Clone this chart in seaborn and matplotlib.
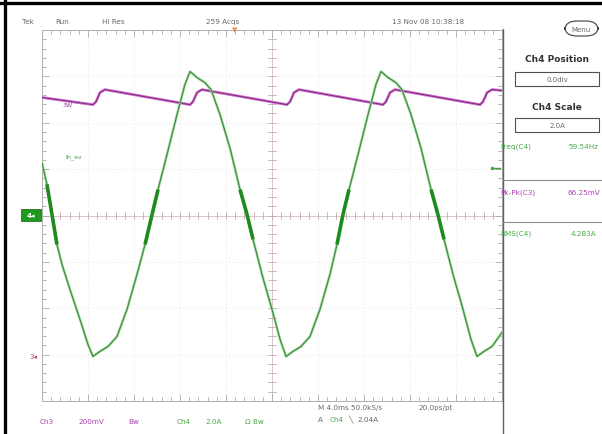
import numpy as np
import pandas as pd
import matplotlib
matplotlib.use('Agg')
import matplotlib.pyplot as plt
import seaborn as sns
from matplotlib.patches import Rectangle, FancyBboxPatch
from matplotlib.lines import Line2D

sns.set_style('white')
plt.rcParams['font.family'] = ['DejaVu Sans']

# Ch4 current probe trace (time in ms, current in A)
ch4_time = [-20.0, -19.57, -19.13, -18.70, -18.26, -17.57, -16.70, -16.0, -15.57, -14.96,
            -14.26, -13.48, -12.61, -11.74, -11.04, -10.43, -9.91, -9.13, -8.26, -7.57,
            -7.13, -6.52, -5.83, -5.30, -4.52, -3.65, -2.78, -2.17, -1.65, -0.87,
            0.0, 0.70, 1.22, 1.83, 2.52, 3.30, 4.17, 5.04, 5.65, 6.17,
            6.70, 7.48, 8.35, 9.04, 9.48, 10.09, 10.78, 11.30, 12.09, 12.96,
            13.83, 14.43, 14.96, 15.74, 16.61, 17.30, 17.83, 18.43, 19.13, 20.0]
ch4_amps = [2.28, 1.34, 0.04, -1.25, -2.11, -3.19, -4.48, -5.56, -6.08, -5.86,
            -5.65, -5.22, -4.05, -2.54, -1.25, 0.04, 1.12, 2.63, 4.35, 5.65,
            6.21, 5.95, 5.73, 5.43, 4.35, 2.90, 1.12, 0.04, -1.03, -2.54,
            -4.05, -5.34, -6.08, -5.86, -5.65, -5.22, -4.05, -2.54, -1.25, 0.04,
            1.12, 2.63, 4.35, 5.65, 6.21, 5.95, 5.73, 5.43, 4.35, 2.90,
            1.12, 0.04, -1.03, -2.54, -4.05, -5.34, -6.08, -5.86, -5.65, -5.04]

# Ch3 voltage trace (time in ms, volts)
ch3_time = [-20.0, -15.57, -15.30, -14.96, -14.52, -7.13, -6.87, -6.52, -6.09, 1.30,
            1.57, 1.91, 2.35, 9.65, 9.91, 10.26, 10.70, 18.09, 18.35, 18.70, 19.13, 20.0]
ch3_volts = [1.117, 1.086, 1.099, 1.138, 1.151, 1.086, 1.099, 1.138, 1.151, 1.086,
             1.099, 1.138, 1.151, 1.086, 1.099, 1.138, 1.151, 1.086, 1.099, 1.138, 1.151, 1.147]

time_scale = 4.0      # ms/div
ch4_scale = 2.0       # A/div
ch3_scale = 0.2       # V/div
ch3_position = -3.04  # div
trig_level = 2.04     # A

df4 = pd.DataFrame({'x': np.array(ch4_time) / time_scale, 'y': np.array(ch4_amps) / ch4_scale})
df3 = pd.DataFrame({'x': np.array(ch3_time) / time_scale,
                    'y': np.array(ch3_volts) / ch3_scale + ch3_position})

W, H = 602, 435
fig = plt.figure(figsize=(W / 100, H / 100), dpi=100)


def fx(px):
    return px / W


def fy(py):
    return 1 - py / H


ax = fig.add_axes([fx(42), fy(402), 460 / W, 371 / H])
ax.set_xlim(-5, 5)
ax.set_ylim(-4, 4)

# graticule
for v in range(-4, 5):
    ax.axvline(v, color='#dcdcdc', lw=0.6, ls=(0, (1, 3)), zorder=0)
for v in range(-3, 4):
    ax.axhline(v, color='#dcdcdc', lw=0.6, ls=(0, (1, 3)), zorder=0)
ax.axhline(0, color='#d0c0c8', lw=0.6, zorder=0)
ax.axvline(0, color='#d0c0c8', lw=0.6, zorder=0)
for v in np.arange(-5, 5.01, 0.2):
    ax.plot([v, v], [-0.08, 0.08], color='#c8a8b8', lw=0.6, zorder=0)
for v in np.arange(-4, 4.01, 0.2):
    ax.plot([-0.09, 0.09], [v, v], color='#c8a8b8', lw=0.6, zorder=0)
ax.set_xticks(range(-5, 6))
ax.set_yticks(range(-4, 5))
ax.set_xticks(np.arange(-5, 5.01, 0.2), minor=True)
ax.set_yticks(np.arange(-4, 4.01, 0.2), minor=True)
ax.tick_params(which='both', direction='in', top=True, right=True, bottom=True, left=True,
               labelbottom=False, labelleft=False, color='#a8a8a8', width=0.6)
ax.tick_params(which='major', length=5)
ax.tick_params(which='minor', length=3)
for s in ax.spines.values():
    s.set_color('#b0b0b0')
    s.set_linewidth(0.7)

# traces
sns.lineplot(data=df3, x='x', y='y', ax=ax, sort=False, estimator=None, color='#d070d0', lw=2.0, zorder=3)
sns.lineplot(data=df3, x='x', y='y', ax=ax, sort=False, estimator=None, color='#7a2a78', lw=0.7, zorder=4)
sns.lineplot(data=df4, x='x', y='y', ax=ax, sort=False, estimator=None, color='#8ed88e', lw=1.8, zorder=5)
sns.lineplot(data=df4, x='x', y='y', ax=ax, sort=False, estimator=None, color='#427f42', lw=0.7, zorder=6)

# noise bursts at the zero crossings
near_zero = np.abs(df4['y'].values) <= 0.7
for i in range(len(df4) - 1):
    if near_zero[i] and near_zero[i + 1]:
        ax.plot(df4['x'].values[i:i + 2], df4['y'].values[i:i + 2], color='#1f8a1f', lw=2.6,
                solid_capstyle='butt', zorder=7)
ax.set_xlabel('')
ax.set_ylabel('')

ax.text(-4.55, 2.37, '3W', color='#a040a0', fontsize=4.5, zorder=8)
ax.text(-4.5, 1.25, 'Ih_av', color='#40a040', fontsize=4.5, zorder=8)

# thick screenshot frame (left and top only)
fig.add_artist(Line2D([fx(4.5), fx(4.5)], [0, 1], color='black', lw=2.4))
fig.add_artist(Line2D([0, 1], [fy(4), fy(4)], color='black', lw=2.4))
# right edge of graticule, running down to the bottom
fig.add_artist(Line2D([fx(503), fx(503)], [0, fy(30)], color='#606060', lw=1.0))

gray = '#6a6a6a'
fs = 5.2
# top status line
fig.text(fx(22), fy(22), 'Tek', fontsize=fs, color=gray, va='center')
fig.text(fx(55), fy(22), 'Run', fontsize=fs, color=gray, va='center')
fig.text(fx(102), fy(22), 'Hi Res', fontsize=fs, color=gray, va='center')
fig.text(fx(206), fy(22), '259 Acqs', fontsize=fs, color=gray, va='center')
fig.text(fx(392), fy(22), '13 Nov 08 10:38:18', fontsize=fs, color=gray, va='center')
fig.text(fx(235), fy(30), '\u25bc', fontsize=5, color='#f09050', ha='center', va='center')

# menu button
fig.add_artist(FancyBboxPatch((fx(565), fy(37)), fx(598) - fx(565), fy(22) - fy(37),
                              boxstyle='round,pad=0,rounding_size=0.02', fc='white', ec='#404040', lw=0.8,
                              transform=fig.transFigure))
fig.text(fx(581), fy(30), 'Menu', fontsize=5, color=gray, ha='center', va='center')

# side panel
fig.text(fx(557), fy(60), 'Ch4 Position', fontsize=6.5, weight='bold', color='#333333', ha='center', va='center')
fig.add_artist(Rectangle((fx(515), fy(87)), fx(599) - fx(515), fy(73) - fy(87), fc='white', ec='#505050',
                         lw=0.8, transform=fig.transFigure))
fig.text(fx(557), fy(80), '0.0div', fontsize=5, color=gray, ha='center', va='center')
fig.text(fx(557), fy(108), 'Ch4 Scale', fontsize=6.5, weight='bold', color='#333333', ha='center', va='center')
fig.add_artist(Rectangle((fx(515), fy(133)), fx(599) - fx(515), fy(119) - fy(133), fc='white', ec='#505050',
                         lw=0.8, transform=fig.transFigure))
fig.text(fx(557), fy(126), '2.0A', fontsize=5, color=gray, ha='center', va='center')

green_t = '#4aa84a'
purple_t = '#b040b0'
fig.text(fx(500), fy(147), 'Freq(C4)', fontsize=fs, color=green_t, va='center')
fig.text(fx(598), fy(147), '59.54Hz', fontsize=fs, color=green_t, va='center', ha='right')
fig.add_artist(Line2D([fx(503), 1], [fy(181), fy(181)], color='#909090', lw=0.8))
fig.text(fx(500), fy(193), 'Pk-Pk(C3)', fontsize=fs, color=purple_t, va='center')
fig.text(fx(600), fy(193), '66.25mV', fontsize=fs, color=purple_t, va='center', ha='right')
fig.add_artist(Line2D([fx(503), 1], [fy(223), fy(223)], color='#909090', lw=0.8))
fig.text(fx(500), fy(234), 'RMS(C4)', fontsize=fs, color=green_t, va='center')
fig.text(fx(596), fy(234), '4.283A', fontsize=fs, color=green_t, va='center', ha='right')

# channel markers
fig.add_artist(Rectangle((fx(21), fy(222)), fx(41) - fx(21), fy(210) - fy(222), fc='#1f9a1f', ec='#106010',
                         lw=0.5, transform=fig.transFigure))
fig.text(fx(31), fy(216), '4\u25c2', fontsize=5, color='white', weight='bold', ha='center', va='center')
fig.text(fx(33), fy(357), '3\u25c2', fontsize=5, color='#c04070', ha='center', va='center')
trig_y = fy(216 - trig_level / ch4_scale * 46.4)
fig.add_artist(Line2D([fx(492), fx(500)], [trig_y, trig_y], color='#40a040', lw=1.0,
                      marker='o', markersize=1.5, markevery=[0]))

# bottom readouts
fig.text(fx(40), fy(422), 'Ch3', fontsize=fs, color=purple_t, va='center')
fig.text(fx(78), fy(422), '200mV', fontsize=fs, color=purple_t, va='center')
fig.text(fx(128), fy(422), 'Bw', fontsize=fs, color=purple_t, va='center')
fig.text(fx(177), fy(422), 'Ch4', fontsize=fs, color=green_t, va='center')
fig.text(fx(205), fy(422), '2.0A', fontsize=fs, color=green_t, va='center')
fig.text(fx(245), fy(422), '\u03a9 Bw', fontsize=fs, color=green_t, va='center')
fig.text(fx(318), fy(408), 'M 4.0ms 50.0kS/s', fontsize=fs, color=gray, va='center')
fig.text(fx(418), fy(408), '20.0ps/pt', fontsize=fs, color=gray, va='center')
fig.text(fx(318), fy(420), 'A', fontsize=fs, color=gray, va='center')
fig.text(fx(330), fy(420), 'Ch4', fontsize=fs, color=green_t, va='center')
fig.text(fx(348), fy(420), '\u2572', fontsize=fs, color=gray, va='center')
fig.text(fx(357), fy(420), '2.04A', fontsize=fs, color=gray, va='center')

fig.savefig('out.png', dpi=100)
